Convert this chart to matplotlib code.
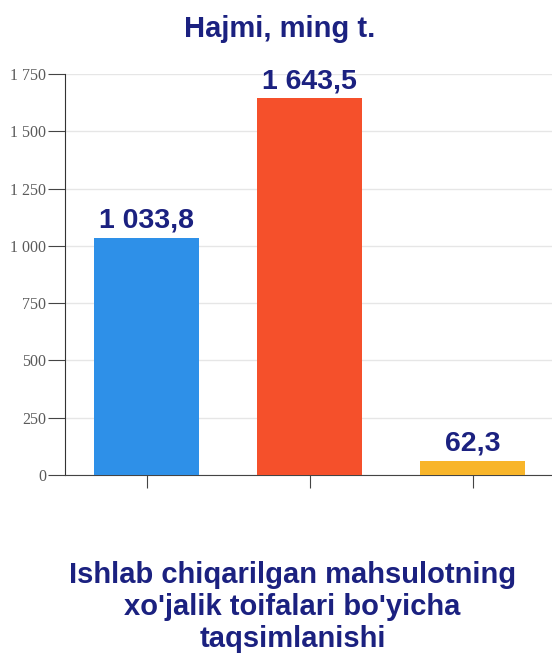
import matplotlib
matplotlib.use("Agg")
import matplotlib.pyplot as plt

categories = ["A", "B", "C"]
values = [1033.8, 1643.5, 62.3]
value_labels = ["1 033,8", "1 643,5", "62,3"]
colors = ["#2e90e8", "#f5502b", "#f8b52a"]
yticks = [0, 250, 500, 750, 1000, 1250, 1500, 1750]
ytick_labels = ["0", "250", "500", "750", "1 000", "1 250", "1 500", "1 750"]

navy = "#1b2180"

fig = plt.figure(figsize=(5.52, 6.57), dpi=100)
ax = fig.add_axes([65 / 552, 182 / 657, 489 / 552, 401 / 657])

x = range(len(categories))
bars = ax.bar(x, values, width=0.64, color=colors, zorder=3)

for b, lab in zip(bars, value_labels):
    ax.annotate(lab, (b.get_x() + b.get_width() / 2, b.get_height()),
                xytext=(0, 3), textcoords="offset points", ha="center", va="bottom",
                fontsize=20.5, fontweight="bold", color=navy, family="Liberation Sans")

ax.set_xlim(-0.5, 2.5)
ax.set_ylim(0, 1750)
ax.set_yticks(yticks)
ax.set_yticklabels(ytick_labels, family="Liberation Serif", fontsize=11.5, color="#5a5a5a")
ax.set_xticks(list(x))
ax.set_xticklabels([])
ax.grid(axis="y", color="#e6e6e6", linewidth=1, zorder=0)
for s in ["top", "right"]:
    ax.spines[s].set_visible(False)
ax.spines["left"].set_color("#333333")
ax.spines["bottom"].set_color("#444444")
ax.tick_params(axis="y", length=12, color="#444444", pad=1.5)
ax.tick_params(axis="x", length=9, color="#444444")

fig.text(0.506, 1 - 29 / 657, "Hajmi, ming t.", ha="center", va="center",
         fontsize=21, fontweight="bold", color=navy, family="Liberation Sans")
fig.text(0.53, 1 - 607 / 657,
         "Ishlab chiqarilgan mahsulotning\nxo'jalik toifalari bo'yicha\ntaqsimlanishi",
         ha="center", va="center", fontsize=21, fontweight="bold", color=navy,
         family="Liberation Sans", linespacing=1.2)

fig.savefig("out.png", dpi=100)
